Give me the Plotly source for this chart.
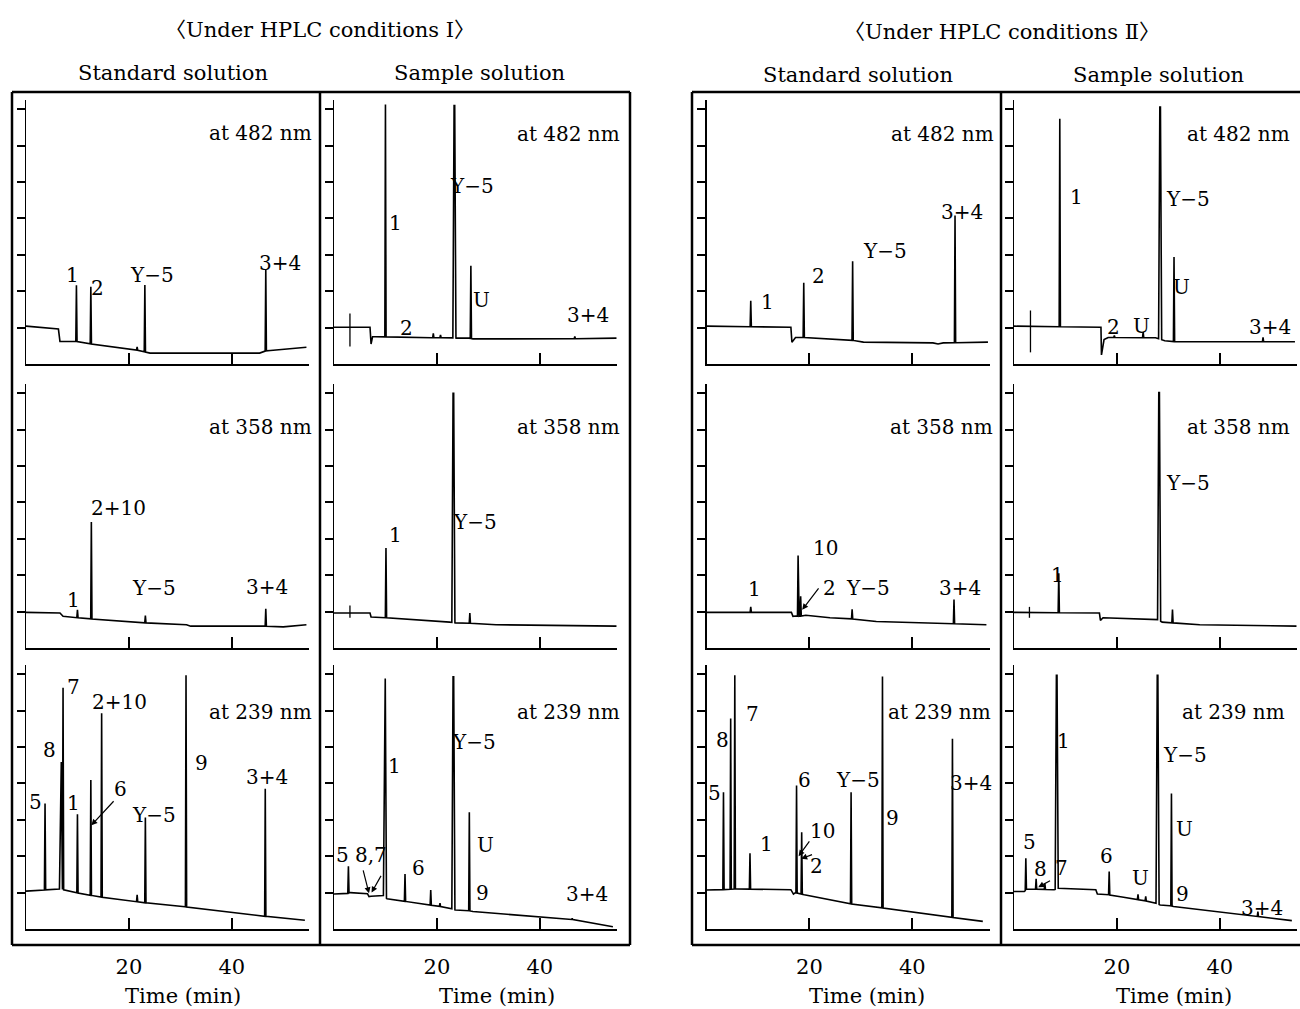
import numpy as np
import plotly.graph_objects as go

# ---------------- DATA ----------------
conditions = ["Ⅰ", "Ⅱ"]
solutions = ["Standard solution", "Sample solution"]
wavelengths = [482, 358, 239]
x_ticks = [20, 40]
y_marks = [1, 2, 3, 4, 5, 6, 7]

# Condition I, standard, 482 nm
I_std_482_base_t = [0, 6.3, 6.6, 9.8, 12.6, 21.0, 24.1, 45.4, 46.6, 47.5, 54.5]
I_std_482_base_y = [1.04, 0.96, 0.62, 0.62, 0.55, 0.40, 0.30, 0.30, 0.36, 0.37, 0.46]
I_std_482_peak_t = [9.8, 12.6, 21.6, 23.1, 46.6]
I_std_482_peak_y = [2.16, 2.12, 0.47, 2.17, 2.60]
I_std_482_labels = ["1", "2", "Y−5", "3+4"]
# Condition I, sample, 482 nm
I_smp_482_base_t = [0, 7.0, 7.2, 7.5, 8.0, 19.0, 23.0, 23.8, 26.2, 27.0, 40, 54.9]
I_smp_482_base_y = [1.01, 1.01, 0.55, 0.75, 0.75, 0.72, 0.72, 0.71, 0.71, 0.69, 0.68, 0.71]
I_smp_482_peak_t = [10.0, 19.3, 20.7, 23.4, 26.6, 46.8]
I_smp_482_peak_y = [7.13, 0.84, 0.80, 7.10, 2.70, 0.76]
I_smp_482_labels = ["1", "2", "Y−5", "U", "3+4"]
I_smp_482_inject = [3.1, 0.48, 1.39]
# Condition I, standard, 358 nm
I_std_358_base_t = [0, 6.6, 7.2, 10.0, 12.7, 23.2, 31.2, 32.0, 46.4, 50, 54.5]
I_std_358_base_y = [0.98, 0.96, 0.87, 0.83, 0.80, 0.69, 0.64, 0.60, 0.60, 0.58, 0.64]
I_std_358_peak_t = [10.0, 12.7, 23.2, 46.6]
I_std_358_peak_y = [1.05, 3.46, 0.89, 1.08]
I_std_358_labels = ["1", "2+10", "Y−5", "3+4"]
# Condition I, sample, 358 nm
I_smp_358_base_t = [0, 7.0, 7.2, 10.1, 22.5, 23.6, 26.4, 31.5, 54.9]
I_smp_358_base_y = [0.96, 0.96, 0.85, 0.83, 0.71, 0.69, 0.68, 0.64, 0.60]
I_smp_358_peak_t = [10.1, 23.2, 26.4]
I_smp_358_peak_y = [2.75, 7.00, 0.96]
I_smp_358_labels = ["1", "Y−5"]
I_smp_358_inject = [3.1, 0.83, 1.17]
# Condition I, standard, 239 nm
I_std_239_base_t = [0, 6.6, 10.0, 14.4, 23.1, 30.9, 46.4, 54.2]
I_std_239_base_y = [1.04, 1.10, 0.99, 0.88, 0.72, 0.61, 0.35, 0.24]
I_std_239_peak_t = [3.7, 6.8, 7.2, 10.0, 12.6, 14.7, 21.6, 23.2, 31.1, 46.5]
I_std_239_peak_y = [3.45, 4.59, 6.63, 3.15, 4.09, 5.93, 0.94, 3.06, 6.97, 3.85]
I_std_239_labels = ["5", "8", "7", "1", "2+10", "6", "Y−5", "9", "3+4"]
# Condition I, sample, 239 nm
I_smp_239_base_t = [0, 2.5, 3.2, 6.5, 6.8, 7.2, 9.6, 10.3, 13.8, 22.5, 23.6, 26.3, 27, 46.3, 54.2]
I_smp_239_base_y = [0.96, 0.97, 1.0, 0.97, 0.89, 0.90, 0.92, 0.83, 0.76, 0.58, 0.52, 0.50, 0.48, 0.26, 0.06]
I_smp_239_peak_t = [2.8, 9.9, 13.8, 18.8, 20.6, 23.2, 26.3, 46.3]
I_smp_239_peak_y = [1.72, 6.88, 1.51, 1.07, 0.71, 6.93, 3.21, 0.29]
I_smp_239_labels = ["5", "8,7", "1", "6", "Y−5", "U", "9", "3+4"]
# Condition II, standard, 482 nm
II_std_482_base_t = [0, 16.4, 16.6, 17.3, 18.5, 28.4, 30.5, 44.0, 45.0, 46.0, 54.7]
II_std_482_base_y = [1.04, 1.01, 0.60, 0.73, 0.73, 0.65, 0.60, 0.58, 0.55, 0.58, 0.60]
II_std_482_peak_t = [8.6, 18.9, 28.4, 48.3]
II_std_482_peak_y = [1.74, 2.23, 2.82, 4.08]
II_std_482_labels = ["1", "2", "Y−5", "3+4"]
# Condition II, sample, 482 nm
II_smp_482_base_t = [0, 16.9, 17.0, 17.5, 18.3, 27.5, 29.3, 31.5, 54.6]
II_smp_482_base_y = [1.04, 1.01, 0.25, 0.67, 0.73, 0.72, 0.64, 0.61, 0.61]
II_smp_482_peak_t = [8.9, 19.5, 25.1, 28.4, 31.1, 48.4]
II_smp_482_peak_y = [6.74, 0.78, 0.88, 7.06, 2.94, 0.73]
II_smp_482_labels = ["1", "2", "U", "Y−5", "U", "3+4"]
II_smp_482_inject = [3.2, 0.32, 1.47]
# Condition II, standard, 358 nm
II_std_358_base_t = [0, 16.5, 16.8, 17.4, 18.0, 19.3, 24.0, 28.3, 33.0, 47.3, 54.4]
II_std_358_base_y = [0.98, 0.98, 0.87, 0.88, 0.87, 0.90, 0.83, 0.80, 0.73, 0.67, 0.64]
II_std_358_peak_t = [8.6, 17.8, 18.3, 28.3, 48.1]
II_std_358_peak_y = [1.13, 2.54, 1.42, 1.06, 1.33]
II_std_358_labels = ["1", "10", "2", "Y−5", "3+4"]
# Condition II, sample, 358 nm
II_smp_358_base_t = [0, 16.6, 16.8, 17.3, 28.0, 28.8, 36.1, 54.9]
II_smp_358_base_y = [0.98, 0.96, 0.76, 0.83, 0.78, 0.71, 0.64, 0.60]
II_smp_358_peak_t = [8.7, 28.2, 30.8]
II_smp_358_peak_y = [2.05, 7.02, 1.06]
II_smp_358_labels = ["1", "Y−5"]
II_smp_358_inject = [3.0, 0.83, 1.13]
# Condition II, standard, 239 nm
II_std_239_base_t = [0, 3.0, 5.8, 16.4, 16.9, 17.3, 19.0, 28.1, 34.2, 47.8, 53.7]
II_std_239_base_y = [1.07, 1.08, 1.10, 1.08, 0.96, 1.00, 0.94, 0.69, 0.58, 0.32, 0.21]
II_std_239_peak_t = [3.3, 4.7, 5.5, 8.45, 17.5, 18.5, 28.1, 34.2, 47.8]
II_std_239_peak_y = [3.76, 5.78, 6.97, 2.08, 3.94, 2.66, 3.76, 6.94, 5.23]
II_std_239_labels = ["5", "8", "7", "1", "6", "10", "2", "Y−5", "9", "3+4"]
# Condition II, sample, 239 nm
II_smp_239_base_t = [0, 2.0, 2.6, 7.8, 8.6, 15.9, 16.2, 18.0, 21.0, 27.2, 28.4, 30.3, 31.0, 54.0]
II_smp_239_base_y = [1.03, 1.03, 1.10, 1.08, 1.12, 1.08, 0.96, 0.95, 0.88, 0.73, 0.66, 0.64, 0.62, 0.23]
II_smp_239_peak_t = [2.3, 4.3, 6.0, 8.3, 18.5, 24.1, 25.6, 27.9, 30.6, 47.4]
II_smp_239_peak_y = [1.94, 1.38, 1.25, 6.97, 1.58, 0.95, 0.90, 6.97, 3.72, 0.48]
II_smp_239_labels = ["5", "8", "7", "1", "6", "U", "Y−5", "U", "9", "3+4"]

# ---------------- LAYOUT / STYLE ----------------
W, H = 1300, 1009
FONT = "DejaVu Serif"
FS = 20
col_px = [(26, 309), (334, 617), (706.5, 989.5), (1014, 1297)]
row_bottom_px = [364, 648, 929]
Y_TOP = 7.25
UNIT_PX = 36.4

# label positions (data units) for each panel, in the same order as the label lists
label_pos = {
    "I_std_482": [(9.1, 2.45), (13.8, 2.09), (24.5, 2.45), (49.3, 2.77)],
    "I_smp_482": [(12.0, 3.87), (14.0, 0.99), (26.8, 4.89), (28.7, 1.76), (49.3, 1.35)],
    "I_std_358": [(9.3, 1.32), (17.9, 3.85), (24.9, 1.65), (46.8, 1.68)],
    "I_smp_358": [(12.0, 3.10), (27.4, 3.46)],
    "I_std_239": [(1.9, 3.49), (4.5, 4.92), (9.3, 6.65), (9.3, 3.46), (18.1, 6.24), (18.4, 3.85),
                  (24.9, 3.13), (34.2, 4.56), (46.8, 4.18)],
    "I_smp_239": [(1.7, 2.03), (7.2, 2.03), (11.8, 4.48), (16.5, 1.68), (27.2, 5.14), (29.5, 2.31),
                  (28.9, 0.99), (49.1, 0.96)],
    "II_std_482": [(11.9, 1.70), (21.7, 2.42), (34.7, 3.10), (49.6, 4.18)],
    "II_smp_482": [(12.2, 4.59), (19.4, 1.02), (24.8, 1.04), (33.8, 4.53), (32.6, 2.12), (49.7, 1.02)],
    "II_std_358": [(9.4, 1.62), (23.2, 2.75), (24.0, 1.65), (31.4, 1.65), (49.2, 1.65)],
    "II_smp_358": [(8.5, 2.00), (33.8, 4.53)],
    "II_std_239": [(1.65, 3.74), (3.2, 5.19), (9.0, 5.90), (11.7, 2.34), (19.1, 4.09), (22.6, 2.69),
                   (21.4, 1.73), (29.4, 4.09), (36.2, 3.05), (51.5, 4.01)],
    "II_smp_239": [(3.1, 2.39), (5.2, 1.65), (9.3, 1.68), (9.7, 5.16), (17.9, 2.00), (24.5, 1.40),
                   (33.2, 4.78), (33.2, 2.75), (32.8, 0.96), (48.2, 0.58)],
}
# arrows: (head x, head y, tail x, tail y)
arrows = {
    "I_std_239": [(12.7, 2.85, 17.3, 3.55)],
    "I_smp_239": [(6.8, 0.98, 5.6, 1.65), (7.3, 1.0, 9.3, 1.5)],
    "II_std_358": [(18.6, 1.05, 22.0, 1.68)],
    "II_std_239": [(17.9, 2.0, 20.2, 2.45), (18.4, 1.93, 20.8, 2.06)],
    "II_smp_239": [(4.7, 1.15, 7.3, 1.35)],
}
# peaks drawn as broad (off-scale, double-line) spikes
wide_peaks = {
    "I_smp_482": [23.4], "I_smp_358": [23.2], "I_smp_239": [23.2, 9.9], "I_std_239": [6.8],
    "II_smp_482": [28.4], "II_smp_358": [28.2], "II_smp_239": [27.9, 8.3],
}
nm_label_px = {  # right edge x, centre y in pixels
    "I_std_482": (314, 133), "I_smp_482": (622, 134), "II_std_482": (996, 134), "II_smp_482": (1292, 134),
    "I_std_358": (314, 427), "I_smp_358": (622, 427), "II_std_358": (995, 427), "II_smp_358": (1292, 427),
    "I_std_239": (314, 712), "I_smp_239": (622, 712), "II_std_239": (993, 712), "II_smp_239": (1287, 712),
}

G = globals()
panel_keys = []
for r, wl in enumerate(wavelengths):
    for c, (cond, sol) in enumerate([("I", "std"), ("I", "smp"), ("II", "std"), ("II", "smp")]):
        panel_keys.append((f"{cond}_{sol}_{wl}", r, c, wl))


def build_trace(bt, by, pt, py, wide):
    bt = np.asarray(bt, float)
    by = np.asarray(by, float)
    hw_list = [0.3 if any(abs(p - q) < 0.05 for q in wide) else 0.12 for p in pt]
    pts = []
    for t, y in zip(bt, by):
        if all(abs(t - p) > hw for p, hw in zip(pt, hw_list)):
            pts.append((t, y))
    for p, a, hw in zip(pt, py, hw_list):
        pts.append((p - hw, float(np.interp(p - hw, bt, by))))
        if hw > 0.2:
            pts.append((p - 0.06, a))
            pts.append((p + 0.06, a))
        else:
            pts.append((p, a))
        pts.append((p + hw, float(np.interp(p + hw, bt, by))))
    pts.sort(key=lambda q: q[0])
    return [q[0] for q in pts], [q[1] for q in pts]


fig = go.Figure()
annotations = []
shapes = []

for k, (key, r, c, wl) in enumerate(panel_keys, start=1):
    xn = "x" if k == 1 else f"x{k}"
    yn = "y" if k == 1 else f"y{k}"
    xs, ys = build_trace(G[key + "_base_t"], G[key + "_base_y"], G[key + "_peak_t"], G[key + "_peak_y"],
                         wide_peaks.get(key, []))
    fig.add_trace(go.Scatter(x=xs, y=ys, mode="lines", line=dict(color="black", width=1.6),
                             xaxis=xn, yaxis=yn, hoverinfo="skip", cliponaxis=False))
    inj = G.get(key + "_inject")
    if inj:
        fig.add_trace(go.Scatter(x=[inj[0], inj[0]], y=[inj[1], inj[2]], mode="lines",
                                 line=dict(color="black", width=1.3), xaxis=xn, yaxis=yn, hoverinfo="skip"))
    x0, x1 = col_px[c]
    yb = row_bottom_px[r]
    yt = yb - Y_TOP * UNIT_PX
    axn = "xaxis" if k == 1 else f"xaxis{k}"
    ayn = "yaxis" if k == 1 else f"yaxis{k}"
    fig.layout[axn] = dict(domain=[x0 / W, x1 / W], anchor=yn, range=[0, 55], showline=True,
                           linecolor="black", linewidth=2, ticks="inside", tickvals=x_ticks,
                           ticklen=11, tickwidth=2, tickcolor="black", showgrid=False, zeroline=False,
                           showticklabels=(r == 2), ticklabelstandoff=18,
                           tickfont=dict(family=FONT, size=FS + 1, color="black"), fixedrange=True)
    fig.layout[ayn] = dict(domain=[1 - yb / H, 1 - yt / H], anchor=xn, range=[0, Y_TOP], showline=True,
                           linecolor="black", linewidth=1.5, ticks="outside", tickvals=y_marks,
                           ticklen=8, tickwidth=2, tickcolor="black", showgrid=False, zeroline=False,
                           showticklabels=False, fixedrange=True)
    for txt, (lx, ly) in zip(G[key + "_labels"], label_pos[key]):
        annotations.append(dict(x=lx, y=ly, xref=xn, yref=yn, text=txt, showarrow=False,
                                font=dict(family=FONT, size=FS, color="black"),
                                xanchor="center", yanchor="middle"))
    for hx, hy, tx, ty in arrows.get(key, []):
        annotations.append(dict(x=hx, y=hy, ax=tx, ay=ty, xref=xn, yref=yn, axref=xn, ayref=yn,
                                text="", showarrow=True, arrowhead=2, arrowsize=1, arrowwidth=1.2,
                                arrowcolor="black"))
    px, py = nm_label_px[key]
    annotations.append(dict(x=px / W, y=1 - py / H, xref="paper", yref="paper", text=f"at {wl} nm",
                            showarrow=False, xanchor="right", yanchor="middle",
                            font=dict(family=FONT, size=FS, color="black")))


def add_text(txt, px, py, size=FS):
    annotations.append(dict(x=px / W, y=1 - py / H, xref="paper", yref="paper", text=txt, showarrow=False,
                            xanchor="center", yanchor="middle", font=dict(family=FONT, size=size, color="black")))


CJK = "<span style='font-family:\"Noto Sans CJK JP\"'>{}</span>"
for cond, cx, cy in [(conditions[0], 320, 28), (conditions[1], 1002, 30)]:
    add_text(CJK.format("〈") + "Under HPLC conditions " + cond + CJK.format("〉"), cx, cy, size=21)
for cx, cy, s in [(173, 73, solutions[0]), (479, 73, solutions[1]), (858, 75, solutions[0]), (1158, 75, solutions[1])]:
    add_text(s, cx, cy, size=21)
for cx in [183, 497, 867, 1174]:
    add_text("Time (min)", cx, 996, size=21)


def line_px(xa, ya, xb, yb, w=2.5):
    shapes.append(dict(type="line", xref="paper", yref="paper", x0=xa / W, y0=1 - ya / H, x1=xb / W,
                       y1=1 - yb / H, line=dict(color="black", width=w)))


line_px(12, 92, 630, 92); line_px(12, 945, 630, 945); line_px(12, 92, 12, 945); line_px(630, 92, 630, 945)
line_px(320, 92, 320, 945)
line_px(692, 92, 1300, 92); line_px(692, 945, 1300, 945); line_px(692, 92, 692, 945)
line_px(1001, 92, 1001, 945)

fig.update_layout(width=W, height=H, margin=dict(l=0, r=0, t=0, b=0), paper_bgcolor="white",
                  plot_bgcolor="white", showlegend=False, annotations=annotations, shapes=shapes)
fig.write_html("out.html", config={"displayModeBar": False, "staticPlot": True},
               post_script="document.body.style.margin='0';document.body.style.overflow='hidden';")
